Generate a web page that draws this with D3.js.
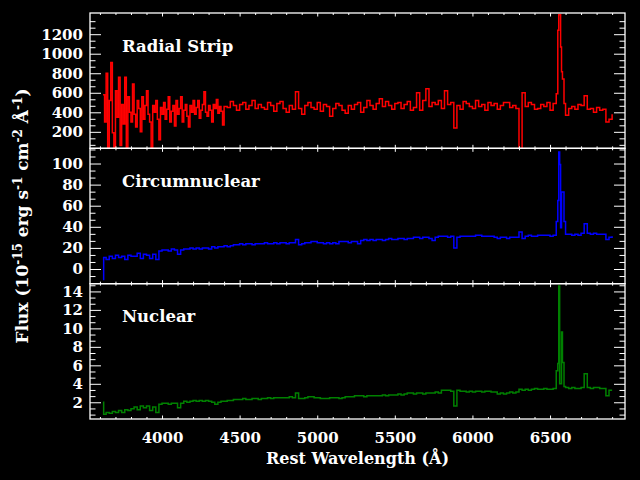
<!DOCTYPE html>
<html>
<head>
<meta charset="utf-8">
<script src="https://cdn.jsdelivr.net/npm/d3@7"></script>
<style>
  body { margin: 0; background: #000; }
  svg { display: block; background: #000; }
</style>
</head>
<body>
<div id="chart"></div>
<script>
// Wavelength grid (Angstrom) for the circumnuclear and nuclear spectra
var wave = [
  3620, 3624, 3640, 3660, 3680, 3700, 3720, 3740, 3760, 3780, 3800,
  3820, 3840, 3860, 3880, 3900, 3920, 3940, 3960, 3980, 4000,
  4020, 4040, 4060, 4080, 4100, 4120, 4140, 4160, 4180, 4200,
  4220, 4240, 4260, 4280, 4300, 4320, 4340, 4360, 4380, 4400,
  4420, 4440, 4460, 4480, 4500, 4520, 4540, 4560, 4580, 4600,
  4620, 4640, 4660, 4680, 4700, 4720, 4740, 4760, 4780, 4800,
  4820, 4840, 4860, 4880, 4900, 4920, 4940, 4960, 4980, 5000,
  5020, 5040, 5060, 5080, 5100, 5120, 5140, 5160, 5180, 5200,
  5220, 5240, 5260, 5280, 5300, 5320, 5340, 5360, 5380, 5400,
  5420, 5440, 5460, 5480, 5500, 5520, 5540, 5560, 5580, 5600,
  5620, 5640, 5660, 5680, 5700, 5720, 5740, 5760, 5780, 5800,
  5820, 5840, 5860, 5880, 5900, 5920, 5940, 5960, 5980, 6000,
  6020, 6040, 6060, 6080, 6100, 6120, 6140, 6160, 6180, 6200,
  6220, 6240, 6260, 6280, 6300, 6320, 6340, 6360, 6380, 6400,
  6420, 6440, 6460, 6480, 6500, 6520, 6540,
  6550, 6556, 6562, 6568, 6574, 6580, 6590, 6600,
  6620, 6640, 6660, 6680, 6700, 6720, 6740, 6760, 6780, 6800, 6820, 6840, 6860, 6880, 6900
];

// Radial strip is noisier in the blue, so it gets a finer grid there
var radialWave = [
  3620, 3630, 3640, 3650, 3660, 3670, 3680, 3690, 3700, 3710,
  3720, 3730, 3740, 3750, 3760, 3770, 3780, 3790, 3800, 3810,
  3820, 3830, 3840, 3850, 3860, 3870, 3880, 3890, 3900, 3910,
  3920, 3930, 3940, 3950, 3960, 3970, 3980, 3990, 4000, 4010,
  4020, 4030, 4040, 4050, 4060, 4070, 4080, 4090, 4100, 4110,
  4120, 4130, 4140, 4150, 4160, 4170, 4180, 4190, 4200, 4210,
  4220, 4230, 4240, 4250, 4260, 4270, 4280, 4290, 4300, 4310,
  4320, 4330, 4340, 4350, 4360, 4370, 4380, 4390, 4400,
  4420, 4440, 4460, 4480, 4500, 4520, 4540, 4560, 4580, 4600,
  4620, 4640, 4660, 4680, 4700, 4720, 4740, 4760, 4780, 4800,
  4820, 4840, 4860, 4880, 4900, 4920, 4940, 4960, 4980, 5000,
  5020, 5040, 5060, 5080, 5100, 5120, 5140, 5160, 5180, 5200,
  5220, 5240, 5260, 5280, 5300, 5320, 5340, 5360, 5380, 5400,
  5420, 5440, 5460, 5480, 5500, 5520, 5540, 5560, 5580, 5600,
  5620, 5640, 5660, 5680, 5700, 5720, 5740, 5760, 5780, 5800,
  5820, 5840, 5860, 5880, 5900, 5920, 5940, 5960, 5980, 6000,
  6020, 6040, 6060, 6080, 6100, 6120, 6140, 6160, 6180, 6200,
  6220, 6240, 6260, 6280, 6300, 6320, 6340, 6360, 6380, 6400,
  6420, 6440, 6460, 6480, 6500, 6520, 6540,
  6550, 6556, 6562, 6568, 6574, 6580, 6590, 6600,
  6620, 6640, 6660, 6680, 6700, 6720, 6740, 6760, 6780, 6800, 6820, 6840, 6860, 6880, 6900
];

var radialFlux = [
  580, 300, 800, 40, 520, 910, 190, 30, 620, 350,
  760, 60, 480, 280, 760, 40, 560, 400, 300, 690,
  380, 250, 520, 440, 200, 560, 330, 470, 620, 380,
  300, 40, 470, 400, 520, 330, 120, 450, 380, 500,
  330, 430, 560, 300, 410, 470, 260, 520, 380, 440,
  560, 300, 420, 480, 360, 250, 470, 400, 520, 380,
  450, 520, 340, 420, 480, 610, 400, 360, 470, 420,
  300, 480, 440, 530, 390, 460, 410, 270, 460,
  450, 510, 470, 420, 480, 500, 430, 470, 520, 440,
  480, 450, 430, 500, 470, 410, 490, 510, 440, 400,
  470, 430, 610, 440, 380, 470, 500, 450, 430, 500,
  410, 480, 460, 360, 440, 490, 470, 420, 390, 470,
  430, 480, 500, 400, 450, 520, 470, 430, 490, 540,
  460, 510, 470, 430, 490, 500, 440, 480, 510, 420,
  450, 600, 420, 520, 640, 460, 500, 480, 520, 440,
  620, 480, 500, 240, 470, 430, 510, 490, 460, 440,
  520, 460, 480, 420, 500, 470, 490, 430, 470, 500,
  500, 450, 470, 440, 0, 600, 460, 500, 480, 430,
  440, 480, 460, 500, 420, 490, 590,
  1240, 1400, 1400, 1070, 815, 740, 490, 370,
  440, 460, 430, 480, 470, 570, 430, 440, 400, 450, 420, 430, 300, 330, 380
];

var circumFlux = [
  -10, 11, 9, 12, 10, 13, 11, 12, 9, 13, 12,
  12, 15, 10, 14, 13, 10, 14, 9, 17, 18,
  18, 17, 19, 18, 14, 18, 19, 19, 20, 19,
  20, 19, 20, 20, 19, 21, 20, 21, 21, 22,
  21, 22, 23, 23, 24, 23, 24, 24, 23, 24,
  24, 24, 25, 24, 24, 25, 24, 25, 25, 24,
  25, 25, 28, 23, 24, 25, 25, 26, 26, 25,
  25, 24, 25, 24, 25, 24, 26, 26, 26, 25,
  26, 26, 24, 27, 28, 27, 28, 27, 28, 28,
  27, 28, 29, 28, 28, 29, 29, 28, 29, 29,
  30, 30, 29, 30, 30, 29, 27, 30, 31, 31,
  31, 30, 31, 20, 30, 31, 31, 31, 31, 31,
  32, 32, 31, 31, 31, 31, 30, 29, 30, 30,
  29, 30, 30, 30, 35, 29, 31, 32, 31, 31,
  32, 32, 32, 32, 31, 32, 45,
  65, 111, 99, 39, 73, 73, 45, 33,
  33, 32, 33, 32, 34, 43, 34, 33, 34, 33, 33, 33, 28, 30, 31
];

var nuclearFlux = [
  2.0, 0.7, 0.9, 0.8, 1.0, 0.9, 1.1, 0.9, 1.2, 1.1, 1.3,
  1.5, 1.2, 1.6, 1.4, 1.6, 1.1, 1.5, 0.9, 1.8, 1.9,
  1.9, 1.8, 1.9, 1.9, 1.4, 1.9, 2.1, 2.0, 2.1, 2.2,
  2.1, 2.2, 2.1, 2.2, 2.1, 2.0, 1.8, 2.0, 2.1, 2.1,
  2.2, 2.2, 2.3, 2.3, 2.3, 2.4, 2.3, 2.3, 2.4, 2.4,
  2.3, 2.4, 2.4, 2.5, 2.4, 2.5, 2.5, 2.5, 2.5, 2.5,
  2.6, 2.5, 3.0, 2.4, 2.4, 2.5, 2.6, 2.6, 2.5, 2.5,
  2.4, 2.4, 2.4, 2.5, 2.5, 2.5, 2.4, 2.5, 2.6, 2.6,
  2.6, 2.7, 2.7, 2.7, 2.6, 2.7, 2.7, 2.7, 2.7, 2.7,
  2.8, 2.7, 2.8, 2.8, 2.8, 2.9, 2.8, 2.9, 3.0, 3.0,
  2.9, 3.0, 3.0, 2.9, 3.0, 3.0, 3.0, 3.1, 3.0, 3.3,
  3.3, 3.3, 3.2, 1.6, 3.3, 3.2, 3.2, 3.1, 3.2, 3.1,
  3.2, 3.2, 3.1, 3.2, 3.2, 3.1, 3.1, 2.9, 3.0, 2.9,
  3.0, 3.1, 3.0, 3.1, 3.4, 3.3, 3.4, 3.3, 3.4, 3.5,
  3.4, 3.4, 3.5, 3.4, 3.4, 3.5, 5.4,
  6.2, 14.6, 4.0, 4.0, 9.6, 6.3, 3.7, 3.6,
  3.5, 3.6, 3.5, 3.5, 3.6, 5.1, 3.6, 3.5, 3.6, 3.6, 3.5, 3.5, 2.7, 3.3, 3.3
];

var panelNames = ["Radial Strip", "Circumnuclear", "Nuclear"];
var xTickLabels = [4000, 4500, 5000, 5500, 6000, 6500];
var radialTicks = [200, 400, 600, 800, 1000, 1200];
var circumTicks = [0, 20, 40, 60, 80, 100];
var nuclearTicks = [2, 4, 6, 8, 10, 12, 14];

var svgWidth = 640;
var svgHeight = 480;

var margin = {
  top: 13,
  right: 15,
  bottom: 61,
  left: 90
};

var width = svgWidth - margin.left - margin.right;
var height = svgHeight - margin.top - margin.bottom;
var panelH = height / 3;
var fontFam = "'DejaVu Serif', serif";

var panels = [
  {name: panelNames[0], wave: radialWave, flux: radialFlux, color: "#ff0000", domain: [31, 1417], ticks: radialTicks},
  {name: panelNames[1], wave: wave, flux: circumFlux, color: "#0000ff", domain: [-13.9, 114.4], ticks: circumTicks},
  {name: panelNames[2], wave: wave, flux: nuclearFlux, color: "#008000", domain: [0.19, 14.84], ticks: nuclearTicks}
];

var svg = d3.select("#chart")
  .append("svg")
  .attr("width", svgWidth)
  .attr("height", svgHeight);

var chart = svg.append("g")
  .attr("transform", `translate(${margin.left}, ${margin.top})`);

var xScale = d3.scaleLinear()
  .domain([3536, 6983])
  .range([0, width]);

var xMinor = d3.range(3600, 6901, 100).filter(d => d % 500 != 0);

function styleAxis(g) {
  g.select(".domain").remove();
  g.selectAll("line").attr("stroke", "#fff").attr("stroke-width", 1);
  g.attr("font-family", fontFam)
    .attr("font-size", 15)
    .attr("font-weight", "bold");
  g.selectAll("text").attr("fill", "#fff");
}

panels.forEach(function(p, i) {
  var top = i * panelH;
  var yScale = d3.scaleLinear()
    .domain(p.domain)
    .range([top + panelH, top]);

  var step = p.ticks[1] - p.ticks[0];
  var yMinor = d3.range(p.ticks[0] - 3 * step, p.domain[1], step / 3)
    .filter(d => d > p.domain[0] && d < p.domain[1])
    .filter(d => Math.abs(Math.round(d / step) * step - d) > 1e-6);

  // clip for the spectrum
  svg.append("clipPath")
    .attr("id", "clip" + i)
    .append("rect")
    .attr("x", 0)
    .attr("y", top)
    .attr("width", width)
    .attr("height", panelH);

  var line = d3.line()
    .x(d => xScale(d[0]))
    .y(d => yScale(d[1]))
    .curve(d3.curveStepAfter);

  chart.append("path")
    .datum(p.wave.map((w, k) => [w, p.flux[k]]))
    .attr("clip-path", "url(#clip" + i + ")")
    .attr("fill", "none")
    .attr("stroke", p.color)
    .attr("stroke-width", 1.5)
    .attr("d", line);

  // left axis
  chart.append("g")
    .call(d3.axisLeft(yScale).tickValues(p.ticks).tickSize(-11).tickPadding(7).tickFormat(d3.format("d")))
    .call(styleAxis);
  chart.append("g")
    .call(d3.axisLeft(yScale).tickValues(yMinor).tickSize(-5.5).tickFormat(""))
    .call(styleAxis);

  // right axis
  chart.append("g")
    .attr("transform", `translate(${width}, 0)`)
    .call(d3.axisRight(yScale).tickValues(p.ticks).tickSize(-11).tickFormat(""))
    .call(styleAxis);
  chart.append("g")
    .attr("transform", `translate(${width}, 0)`)
    .call(d3.axisRight(yScale).tickValues(yMinor).tickSize(-5.5).tickFormat(""))
    .call(styleAxis);

  // bottom and top x ticks
  chart.append("g")
    .attr("transform", `translate(0, ${top + panelH})`)
    .call(d3.axisBottom(xScale).tickValues(xTickLabels).tickSize(-3.5).tickPadding(13)
      .tickFormat(i == 2 ? d3.format("d") : ""))
    .call(styleAxis);
  chart.append("g")
    .attr("transform", `translate(0, ${top + panelH})`)
    .call(d3.axisBottom(xScale).tickValues(xMinor).tickSize(-2).tickFormat(""))
    .call(styleAxis);
  chart.append("g")
    .attr("transform", `translate(0, ${top})`)
    .call(d3.axisTop(xScale).tickValues(xTickLabels).tickSize(-3.5).tickFormat(""))
    .call(styleAxis);
  chart.append("g")
    .attr("transform", `translate(0, ${top})`)
    .call(d3.axisTop(xScale).tickValues(xMinor).tickSize(-2).tickFormat(""))
    .call(styleAxis);

  // frame
  chart.append("rect")
    .attr("x", 0)
    .attr("y", top)
    .attr("width", width)
    .attr("height", panelH)
    .attr("fill", "none")
    .attr("stroke", "#fff")
    .attr("stroke-width", 1.3);

  // panel name
  chart.append("text")
    .attr("x", 32)
    .attr("y", top + 38.5)
    .attr("fill", "#fff")
    .attr("font-family", fontFam)
    .attr("font-weight", "bold")
    .attr("font-size", 16.5)
    .text(p.name);
});

// X axis title
chart.append("text")
  .attr("x", 357.5 - margin.left)
  .attr("y", 464 - margin.top)
  .attr("text-anchor", "middle")
  .attr("fill", "#fff")
  .attr("font-family", fontFam)
  .attr("font-weight", "bold")
  .attr("font-size", 16)
  .text("Rest Wavelength (Å)");

// Y axis title with superscripts
var yTitle = svg.append("text")
  .attr("transform", "translate(28, 216) rotate(-90)")
  .attr("text-anchor", "middle")
  .attr("fill", "#fff")
  .attr("font-family", fontFam)
  .attr("font-weight", "bold")
  .attr("font-size", 17);

var parts = [["Flux (10", false], ["-15", true], [" erg s", false], ["-1", true],
  [" cm", false], ["-2", true], [" Å", false], ["-1", true], [")", false]];
var lifted = false;
parts.forEach(function(pt) {
  var t = yTitle.append("tspan").text(pt[0]);
  if (pt[1] && !lifted) { t.attr("dy", -6).attr("font-size", 12); lifted = true; }
  else if (pt[1]) { t.attr("font-size", 12); }
  else if (lifted) { t.attr("dy", 6); lifted = false; }
});
</script>
</body>
</html>
